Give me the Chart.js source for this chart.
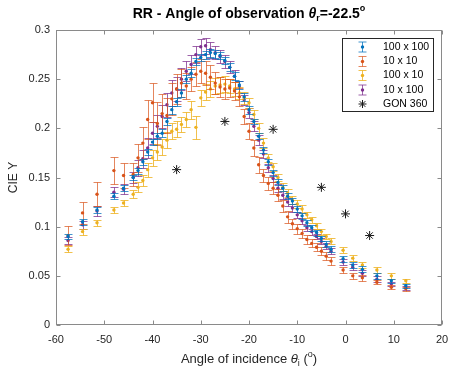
<!DOCTYPE html>
<html>
<head>
<meta charset="utf-8">
<script src="https://cdn.jsdelivr.net/npm/chart.js@4.4.1/dist/chart.umd.min.js"></script>
<style>
  html, body { margin: 0; padding: 0; background: #fff; }
  #wrap { width: 450px; height: 371px; }
</style>
</head>
<body>
<div id="wrap"><canvas id="chartRR" width="450" height="371"></canvas></div>
<script>
// ===== DATA =====
const angles = [-57.5, -54.5, -51.5, -48, -46,
  -44, -43, -42, -41, -40, -39, -38, -37, -36, -35,
  -34, -33, -32, -31, -30, -29, -28, -27, -26, -25,
  -24, -23, -22, -21, -20, -19, -18, -17, -16, -15,
  -14, -13, -12, -11, -10, -9, -8, -7, -6, -5,
  -4, -3,
  -0.5, 1.5, 3.5, 6.5, 9.5, 12.5];

const y100x100 = [0.090, 0.105, 0.117, 0.131, 0.139,
  0.150, 0.157, 0.166, 0.176, 0.186, 0.192, 0.195, 0.207, 0.219, 0.227,
  0.236, 0.250, 0.256, 0.268, 0.272, 0.275, 0.277, 0.276, 0.274, 0.269,
  0.262, 0.253, 0.244, 0.232, 0.219, 0.207, 0.192, 0.178, 0.166, 0.155,
  0.145, 0.139, 0.131, 0.126, 0.118, 0.111, 0.104, 0.099, 0.094, 0.088,
  0.082, 0.077,
  0.0675, 0.061, 0.0566, 0.050, 0.045, 0.040];
const e100x100 = [0.003, 0.003, 0.003, 0.003, 0.003,
  0.003, 0.003, 0.003, 0.003, 0.003, 0.003, 0.004, 0.004, 0.004, 0.004,
  0.004, 0.004, 0.004, 0.004, 0.004, 0.004, 0.004, 0.004, 0.004, 0.004,
  0.004, 0.004, 0.004, 0.004, 0.004, 0.003, 0.003, 0.003, 0.003, 0.003,
  0.003, 0.003, 0.003, 0.003, 0.003, 0.003, 0.003, 0.003, 0.003, 0.003,
  0.003, 0.003,
  0.003, 0.003, 0.003, 0.003, 0.002, 0.002];

const y10x10 = [0.091, 0.114, 0.133, 0.157, 0.152,
  0.153, 0.170, 0.185, 0.209, 0.226, 0.205, 0.215, 0.213, 0.230, 0.240,
  0.246, 0.243, 0.250, 0.255, 0.258, 0.256, 0.252, 0.246, 0.242, 0.240,
  0.241, 0.238, 0.232, 0.212, 0.197, 0.180, 0.163, 0.152, 0.144, 0.139,
  0.132, 0.121, 0.110, 0.103, 0.098, 0.093, 0.087, 0.083, 0.079, 0.075,
  0.070, 0.065,
  0.056, 0.050, 0.048, 0.0434, 0.0383, 0.037];
const e10x10 = [0.010, 0.011, 0.012, 0.014, 0.013,
  0.012, 0.014, 0.016, 0.020, 0.020, 0.022, 0.020, 0.018, 0.016, 0.015,
  0.014, 0.013, 0.012, 0.012, 0.012, 0.012, 0.012, 0.011, 0.010, 0.010,
  0.009, 0.009, 0.009, 0.008, 0.008, 0.008, 0.008, 0.007, 0.007, 0.006,
  0.006, 0.006, 0.006, 0.005, 0.005, 0.005, 0.005, 0.004, 0.004, 0.004,
  0.004, 0.004,
  0.003, 0.003, 0.003, 0.002, 0.002, 0.002];

const y100x10 = [0.077, 0.095, 0.104, 0.117, 0.124,
  0.133, 0.140, 0.147, 0.158, 0.170, 0.176, 0.181, 0.188, 0.197, 0.199,
  0.204, 0.209, 0.219, 0.201, 0.231, 0.237, 0.240, 0.243, 0.244, 0.245,
  0.243, 0.240, 0.236, 0.231, 0.226, 0.214, 0.200, 0.185, 0.170, 0.161,
  0.150, 0.140, 0.134, 0.127, 0.123, 0.118, 0.112, 0.107, 0.101, 0.095,
  0.090, 0.085,
  0.076, 0.068, 0.061, 0.056, 0.050, 0.045];
const e100x10 = [0.003, 0.003, 0.003, 0.003, 0.003,
  0.004, 0.005, 0.006, 0.007, 0.008, 0.008, 0.008, 0.008, 0.008, 0.008,
  0.008, 0.008, 0.009, 0.012, 0.008, 0.008, 0.008, 0.008, 0.008, 0.008,
  0.007, 0.007, 0.006, 0.006, 0.005, 0.005, 0.005, 0.005, 0.004, 0.004,
  0.004, 0.004, 0.004, 0.004, 0.004, 0.004, 0.003, 0.003, 0.003, 0.003,
  0.003, 0.003,
  0.003, 0.003, 0.003, 0.003, 0.003, 0.002];

const y10x100 = [0.086, 0.102, 0.116, 0.135, 0.138,
  0.150, 0.160, 0.169, 0.180, 0.195, 0.202, 0.212, 0.224, 0.236, 0.240,
  0.250, 0.258, 0.265, 0.275, 0.283, 0.284, 0.280, 0.277, 0.273, 0.268,
  0.262, 0.253, 0.242, 0.229, 0.216, 0.202, 0.188, 0.174, 0.160, 0.149,
  0.139, 0.132, 0.125, 0.119, 0.112, 0.106, 0.099, 0.095, 0.090, 0.085,
  0.080, 0.075,
  0.064, 0.0587, 0.0526, 0.0465, 0.0417, 0.0376];
const e10x100 = [0.004, 0.004, 0.005, 0.005, 0.005,
  0.006, 0.008, 0.009, 0.010, 0.011, 0.012, 0.012, 0.012, 0.013, 0.012,
  0.011, 0.010, 0.010, 0.009, 0.008, 0.008, 0.008, 0.007, 0.007, 0.007,
  0.006, 0.006, 0.006, 0.005, 0.005, 0.005, 0.005, 0.004, 0.004, 0.004,
  0.004, 0.004, 0.004, 0.004, 0.003, 0.003, 0.003, 0.003, 0.003, 0.003,
  0.003, 0.003,
  0.003, 0.003, 0.003, 0.003, 0.002, 0.002];

const gonX = [-35, -25, -15, -5, 0, 5];
const gonY = [0.158, 0.207, 0.199, 0.140, 0.113, 0.091];

const xTicks = [-60, -50, -40, -30, -20, -10, 0, 10, 20];
const yTicks = [0, 0.05, 0.1, 0.15, 0.2, 0.25, 0.3];
const yTickLabels = ['0', '0.05', '0.1', '0.15', '0.2', '0.25', '0.3'];

// ===== STYLE =====
const FONT = '"Liberation Sans", Arial, Helvetica, sans-serif';
const AXIS_TXT = '#262626';
const AXIS_LINE = '#8a8a8a';

const series = [
  { label: '100 x 100', y: y100x100, err: e100x100, color: '#0072BD', bar: 'rgba(0,114,189,0.75)' },
  { label: '10 x 10',   y: y10x10,   err: e10x10,   color: '#D95319', bar: 'rgba(217,83,25,0.7)' },
  { label: '100 x 10',  y: y100x10,  err: e100x10,  color: '#EDB120', bar: 'rgba(237,177,32,0.8)' },
  { label: '10 x 100',  y: y10x100,  err: e10x100,  color: '#7E2F8E', bar: 'rgba(126,47,142,0.75)' },
];

const datasets = series.map(s => ({
  label: s.label,
  data: angles.map((a, i) => ({ x: a, y: s.y[i] })),
  errors: s.err,
  barColor: s.bar,
  pointRadius: 1.7,
  pointBackgroundColor: s.color,
  pointBorderWidth: 0,
  showLine: false,
}));

datasets.push({
  label: 'GON 360',
  data: gonX.map((g, i) => ({ x: g, y: gonY[i] })),
  pointStyle: 'star',
  pointRadius: 4.5,
  pointBorderColor: '#1a1a1a',
  pointBorderWidth: 1,
  pointBackgroundColor: '#1a1a1a',
  showLine: false,
});

// ===== PLUGIN: error bars (drawn under each dataset's own dots) =====
const errorBars = {
  id: 'errorBars',
  beforeDatasetDraw(chart, args) {
    const ds = chart.data.datasets[args.index];
    if (!ds.errors) return;
    const { ctx, chartArea: a, scales: { x, y } } = chart;
    ctx.save();
    ctx.beginPath();
    ctx.rect(a.left, a.top, a.right - a.left, a.bottom - a.top);
    ctx.clip();
    ctx.strokeStyle = ds.barColor;
    ctx.lineWidth = 1;
    ds.data.forEach((p, i) => {
      const px = Math.round(x.getPixelForValue(p.x)) + 0.5;
      const top = Math.round(y.getPixelForValue(p.y + ds.errors[i])) + 0.5;
      const bot = Math.round(y.getPixelForValue(p.y - ds.errors[i])) + 0.5;
      ctx.beginPath();
      ctx.moveTo(px, top); ctx.lineTo(px, bot);
      ctx.moveTo(px - 4, top); ctx.lineTo(px + 4, top);
      ctx.moveTo(px - 4, bot); ctx.lineTo(px + 4, bot);
      ctx.stroke();
    });
    ctx.restore();
  }
};

// ===== helper: text with sub/superscript pieces =====
function drawRich(ctx, parts, cx, baseY) {
  let total = 0;
  parts.forEach(p => { ctx.font = p.font; total += ctx.measureText(p.text).width; });
  let xPos = cx - total / 2;
  parts.forEach(p => {
    ctx.font = p.font;
    ctx.fillText(p.text, xPos, baseY + (p.dy || 0));
    xPos += ctx.measureText(p.text).width;
  });
}

// ===== PLUGIN: box, inward ticks, titles, legend =====
const frame = {
  id: 'frame',
  afterDraw(chart) {
    const { ctx, chartArea: a, scales: { x, y } } = chart;
    ctx.save();

    // box
    ctx.strokeStyle = AXIS_LINE;
    ctx.lineWidth = 1;
    const L = Math.round(a.left) + 0.5, R = Math.round(a.right) - 0.5;
    const T = Math.round(a.top) + 0.5, B = Math.round(a.bottom) - 0.5;
    ctx.strokeRect(L, T, R - L, B - T);

    // inward ticks
    ctx.beginPath();
    xTicks.forEach(v => {
      const px = Math.round(x.getPixelForValue(v)) + 0.5;
      ctx.moveTo(px, B); ctx.lineTo(px, B - 4);
      ctx.moveTo(px, T); ctx.lineTo(px, T + 4);
    });
    yTicks.forEach(v => {
      const py = Math.round(y.getPixelForValue(v)) + 0.5;
      ctx.moveTo(L, py); ctx.lineTo(L + 4, py);
      ctx.moveTo(R, py); ctx.lineTo(R - 4, py);
    });
    ctx.stroke();

    // title
    ctx.fillStyle = '#000';
    ctx.textAlign = 'left';
    ctx.textBaseline = 'alphabetic';
    const cx = (a.left + a.right) / 2;
    drawRich(ctx, [
      { text: 'RR - Angle of observation ', font: 'bold 14px ' + FONT },
      { text: 'θ', font: 'bold italic 14px ' + FONT },
      { text: 'r', font: 'bold 9px ' + FONT, dy: 3 },
      { text: '=-22.5', font: 'bold 14px ' + FONT },
      { text: 'o', font: 'bold 9px ' + FONT, dy: -7 },
    ], cx, 18);

    // x axis label
    ctx.fillStyle = AXIS_TXT;
    drawRich(ctx, [
      { text: 'Angle of incidence ', font: '13px ' + FONT },
      { text: 'θ', font: 'italic 13px ' + FONT },
      { text: 'i', font: '9px ' + FONT, dy: 3 },
      { text: ' (', font: '13px ' + FONT },
      { text: 'o', font: '9px ' + FONT, dy: -6 },
      { text: ')', font: '13px ' + FONT },
    ], cx, 363);

    // y axis label
    ctx.save();
    ctx.translate(17, (a.top + a.bottom) / 2);
    ctx.rotate(-Math.PI / 2);
    ctx.textAlign = 'center';
    ctx.font = '12px ' + FONT;
    ctx.fillText('CIE Y', 0, 0);
    ctx.restore();

    // legend
    const lx = 342.5, ly = 38.5, lw = 91, lh = 73;
    ctx.fillStyle = '#fff';
    ctx.fillRect(lx, ly, lw, lh);
    ctx.strokeStyle = '#262626';
    ctx.lineWidth = 1;
    ctx.strokeRect(lx, ly, lw, lh);
    ctx.font = '10.5px ' + FONT;
    ctx.textBaseline = 'middle';
    const rowY = [47, 61.5, 75.5, 90, 104];
    chart.data.datasets.forEach((ds, i) => {
      const ry = rowY[i];
      const ix = 362.5;
      if (ds.errors) {
        ctx.strokeStyle = ds.barColor;
        ctx.beginPath();
        ctx.moveTo(ix, ry - 5); ctx.lineTo(ix, ry + 5);
        ctx.moveTo(ix - 4, ry - 5); ctx.lineTo(ix + 4, ry - 5);
        ctx.moveTo(ix - 4, ry + 5); ctx.lineTo(ix + 4, ry + 5);
        ctx.stroke();
        ctx.fillStyle = ds.pointBackgroundColor;
        ctx.beginPath();
        ctx.arc(ix, ry, 1.7, 0, Math.PI * 2);
        ctx.fill();
      } else {
        ctx.strokeStyle = '#1a1a1a';
        ctx.beginPath();
        for (let k = 0; k < 4; k++) {
          const ang = k * Math.PI / 4;
          ctx.moveTo(ix - 4 * Math.cos(ang), ry - 4 * Math.sin(ang));
          ctx.lineTo(ix + 4 * Math.cos(ang), ry + 4 * Math.sin(ang));
        }
        ctx.stroke();
      }
      ctx.fillStyle = '#000';
      ctx.textAlign = 'left';
      ctx.fillText(ds.label, 383, ry);
    });

    ctx.restore();
  }
};

// ===== CHART =====
const ctxRR = document.getElementById('chartRR').getContext('2d');

const rrChart = new Chart(ctxRR, {
  type: 'scatter',
  data: { datasets },
  plugins: [errorBars, frame],
  options: {
    responsive: false,
    animation: false,
    devicePixelRatio: 1,
    layout: { padding: { left: 0, top: 30, right: 8, bottom: 0 } },
    plugins: {
      legend: { display: false },
      tooltip: { enabled: false },
      title: { display: false },
    },
    scales: {
      x: {
        type: 'linear',
        min: -60,
        max: 20,
        afterFit: s => { s.height = 46; s.paddingLeft = 0; s.paddingRight = 0; },
        afterBuildTicks: s => { s.ticks = xTicks.map(v => ({ value: v })); },
        grid: { display: false, drawTicks: false },
        border: { display: false },
        ticks: {
          padding: 8,
          maxRotation: 0,
          autoSkip: false,
          color: AXIS_TXT,
          font: { family: FONT, size: 11 },
          callback: v => String(v),
        },
      },
      y: {
        type: 'linear',
        min: 0,
        max: 0.3,
        afterFit: s => { s.width = 56; s.paddingTop = 0; s.paddingBottom = 0; },
        afterBuildTicks: s => { s.ticks = yTicks.map(v => ({ value: v })); },
        grid: { display: false, drawTicks: false },
        border: { display: false },
        ticks: {
          padding: 6,
          autoSkip: false,
          color: AXIS_TXT,
          font: { family: FONT, size: 11 },
          callback: (v, i) => yTickLabels[i],
        },
      },
    },
  },
});
</script>
</body>
</html>
